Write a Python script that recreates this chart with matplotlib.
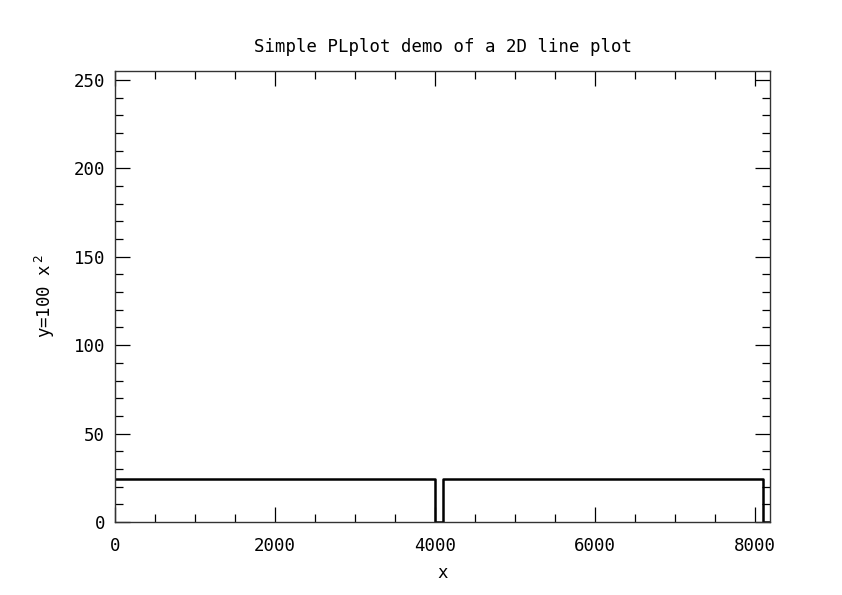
import matplotlib
matplotlib.use("Agg")
import matplotlib.pyplot as plt
from matplotlib.ticker import MultipleLocator

# Data
x_vals = [0, 4000, 4000, 4100, 4100, 8100, 8100, 8191]
y_vals = [24.3, 24.3, 0, 0, 24.3, 24.3, 0, 0]
x_ticks = [0, 2000, 4000, 6000, 8000]
y_ticks = [0, 50, 100, 150, 200, 250]

plt.rcParams['font.family'] = ['DejaVu Sans Mono']

fig = plt.figure(figsize=(8.42, 5.95), dpi=100)
ax = fig.add_axes([115/842, 73/595, 655/842, 451/595])

ax.plot(x_vals, y_vals, color='black', linewidth=1.8)
ax.set_xlim(0, 8191)
ax.set_ylim(0, 255)

ax.set_xticks(x_ticks)
ax.set_yticks(y_ticks)
ax.xaxis.set_minor_locator(MultipleLocator(500))
ax.yaxis.set_minor_locator(MultipleLocator(10))
ax.tick_params(which='both', direction='in', top=True, right=True, width=0.9,
               labelsize=12.5)
ax.tick_params(axis='x', which='both', pad=11)
ax.tick_params(axis='y', which='both', pad=7)
ax.tick_params(which='major', length=11)
ax.tick_params(which='minor', length=6)
for s in ax.spines.values():
    s.set_linewidth(1.0)
    s.set_color('#333333')

ax.set_title('Simple PLplot demo of a 2D line plot', fontsize=12.5, pad=14)
ax.set_xlabel('x', fontsize=12.5, labelpad=6)
ax.set_ylabel(r'y=100 x$^{\,2}$', fontsize=12.5, labelpad=12)

fig.savefig('out.png', dpi=100)
